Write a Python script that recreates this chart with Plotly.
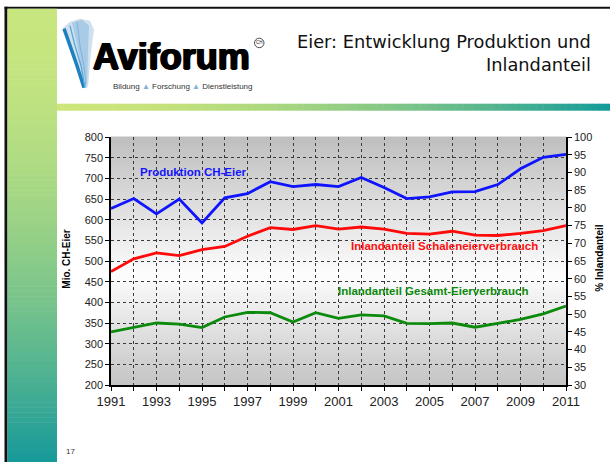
import plotly.graph_objects as go

# ---------------- data ----------------
years = list(range(1991, 2012))
produktion = [627, 651, 614, 650, 592, 653, 663, 692, 680, 685, 680, 702, 678, 651,
              655, 667, 668, 685, 723, 751, 758]
schaleneier = [62.0, 65.6, 67.3, 66.5, 68.2, 69.1, 72.0, 74.4, 73.9, 75.0, 74.0, 74.6,
               74.0, 72.8, 72.6, 73.4, 72.3, 72.2, 72.8, 73.6, 75.0]
gesamt = [45.0, 46.2, 47.5, 47.2, 46.2, 49.2, 50.5, 50.4, 47.8, 50.4, 48.8, 49.8,
          49.5, 47.4, 47.3, 47.5, 46.3, 47.4, 48.5, 50.1, 52.3]
x_ticklabels = [str(y) if (y - 1991) % 2 == 0 else "" for y in years]
left_ticks = list(range(200, 801, 50))
right_ticks = list(range(30, 101, 5))

# ---------------- geometry helpers ----------------
W, H = 610, 462
L, R, T, B = 111, 566, 137.3, 385.3


def px(x):
    return (x - L) / (R - L)


def py(y):
    return (B - y) / (B - T)


def lerp(c1, c2, f):
    return "rgb(%d,%d,%d)" % tuple(round(a + (b - a) * f) for a, b in zip(c1, c2))


shapes = []

# plot-area vertical gradient (grey - white - grey)
N = 70
top_c, mid_c, bot_c = (190, 190, 190), (253, 253, 253), (196, 196, 196)
t0 = 0.56
for i in range(N):
    t = (i + 0.5) / N
    if t < t0:
        col = lerp(top_c, mid_c, t / t0)
    else:
        col = lerp(mid_c, bot_c, (t - t0) / (1 - t0))
    shapes.append(dict(type="rect", xref="paper", yref="paper", x0=0, x1=1,
                       y0=1 - (i + 1) / N - 0.002, y1=1 - i / N + 0.002,
                       fillcolor=col, line_width=0, layer="below"))

# slide frame: black top and left lines
shapes.append(dict(type="rect", xref="paper", yref="paper", x0=px(4.5), x1=px(611),
                   y0=py(9), y1=py(7), fillcolor="#111", line_width=0, layer="below"))
shapes.append(dict(type="rect", xref="paper", yref="paper", x0=px(4.5), x1=px(7.5),
                   y0=py(463), y1=py(7), fillcolor="#111", line_width=0, layer="below"))

# green left bar (vertical gradient)
NB = 90
g_top, g_bot = (200, 230, 127), (21, 153, 154)
for i in range(NB):
    y0p = 9 + (463 - 9) * i / NB
    y1p = 9 + (463 - 9) * (i + 1) / NB
    f = ((i + 0.5) / NB) ** 1.8
    shapes.append(dict(type="rect", xref="paper", yref="paper", x0=px(7.5), x1=px(57),
                       y0=py(y1p + 0.5), y1=py(y0p), fillcolor=lerp(g_top, g_bot, f),
                       line_width=0, layer="below"))

# header gradient line (horizontal gradient)
NH = 90
h_l, h_r = (205, 229, 122), (17, 154, 153)
for i in range(NH):
    x0p = 57 + (611 - 57) * i / NH
    x1p = 57 + (611 - 57) * (i + 1) / NH
    f = ((i + 0.5) / NH) ** 1.8
    shapes.append(dict(type="rect", xref="paper", yref="paper", x0=px(x0p), x1=px(x1p + 0.5),
                       y0=py(111), y1=py(104), fillcolor=lerp(h_l, h_r, f),
                       line_width=0, layer="below"))


# logo feather graphic
def path(points, close=True):
    s = "M " + " L ".join("%f,%f" % (px(a), py(b)) for a, b in points)
    return s + (" Z" if close else "")


shapes.append(dict(type="path", xref="paper", yref="paper",
                   path=path([(63, 28), (70, 22), (80, 19), (90, 21), (94, 30), (91, 52),
                              (88, 88), (81, 76), (71, 50)]),
                   fillcolor="#cfe0ef", line_width=0, layer="below"))
shapes.append(dict(type="path", xref="paper", yref="paper",
                   path=path([(72, 23), (82, 20), (89, 26), (88, 52), (87, 86), (82, 70), (77, 45)]),
                   fillcolor="#a9cbe6", line_width=0, layer="below"))
for pts, col, w in [([(64, 29), (70, 46), (77, 66), (84, 88)], "#1f80c0", 3.5),
                    ([(70, 26), (75, 46), (81, 66), (85, 88)], "#5aa6d6", 1.3),
                    ([(77, 22), (80, 46), (84, 66), (86, 88)], "#78b5de", 1.0)]:
    shapes.append(dict(type="path", xref="paper", yref="paper", path=path(pts, close=False),
                       line=dict(color=col, width=w), layer="below"))

# registered mark circle
shapes.append(dict(type="circle", xref="paper", yref="paper", x0=px(254.5), x1=px(264),
                   y0=py(48), y1=py(38.5), line=dict(color="#222", width=0.8),
                   fillcolor="white", layer="above"))

# ---------------- traces ----------------
fig = go.Figure()
fig.add_trace(go.Scatter(x=years, y=produktion, mode="lines", yaxis="y",
                         line=dict(color="#0f14ff", width=2.8), name="Produktion CH-Eier"))
fig.add_trace(go.Scatter(x=years, y=schaleneier, mode="lines", yaxis="y2",
                         line=dict(color="#ff0a0a", width=2.8),
                         name="Inlandanteil Schaleneierverbrauch"))
fig.add_trace(go.Scatter(x=years, y=gesamt, mode="lines", yaxis="y2",
                         line=dict(color="#0b8a0b", width=2.8),
                         name="Inlandanteil Gesamt-Eierverbrauch"))

ann = []


def text(x, y, s, size, color="#000", bold=False, xanchor="center", family="Liberation Sans, Arial",
         angle=0, shadow=None):
    f = dict(size=size, color=color, family=family)
    if shadow is not None:
        f["shadow"] = shadow
    ann.append(dict(x=px(x), y=py(y), xref="paper", yref="paper", text=("<b>%s</b>" % s) if bold else s,
                    showarrow=False, xanchor=xanchor, yanchor="middle", textangle=angle,
                    font=f))


# header texts
text(593, 41.5, "Eier: Entwicklung Produktion und", 17.8, "#111", xanchor="right",
     family="DejaVu Sans")
text(593, 65, "Inlandanteil", 17.8, "#111", xanchor="right", family="DejaVu Sans")
text(171, 57, "Aviforum", 36, "#000", bold=True, family="Liberation Sans",
     shadow="1px 0px 0px #000, -1px 0px 0px #000, 0px 1px 0px #000")
text(259.3, 43.3, "CH", 4.5, "#222")
text(182.5, 87,
     'Bildung <span style="color:#7fb3d9">▲</span> Forschung '
     '<span style="color:#7fb3d9">▲</span> Dienstleistung', 8, "#333")

# chart labels
text(138, 172.5, "Produktion CH-Eier", 11.5, "#1414ff", bold=True, xanchor="left")
text(349, 246.5, "Inlandanteil Schaleneierverbrauch", 11.5, "#ff1010", bold=True, xanchor="left")
text(336, 291.5, "Inlandanteil Gesamt-Eierverbrauch", 11.5, "#0b8a0b", bold=True, xanchor="left")
text(67, 259, "Mio. CH-Eier", 10, "#000", bold=True, angle=-90)
text(600, 259, "% Inlandanteil", 10, "#000", bold=True, angle=-90)
text(70, 452, "17", 8, "#333")

axis_font = dict(family="Liberation Sans, Arial", size=11, color="#222")

fig.update_layout(
    width=W, height=H,
    margin=dict(l=L, r=W - R, t=T, b=H - B, pad=0),
    paper_bgcolor="white",
    plot_bgcolor="rgba(0,0,0,0)",
    showlegend=False,
    shapes=shapes,
    annotations=ann,
    xaxis=dict(range=[1991, 2011], tickmode="array", tickvals=years, ticktext=x_ticklabels,
               showgrid=True, gridcolor="#3a3a3a", griddash="dot", gridwidth=1,
               showline=True, linecolor="black", linewidth=1.5,
               ticks="outside", ticklen=4, tickcolor="black", tickwidth=1,
               tickfont=dict(family="Liberation Sans, Arial", size=13, color="#222"),
               zeroline=False, fixedrange=True),
    yaxis=dict(range=[200, 800], tickmode="array", tickvals=left_ticks,
               showgrid=True, gridcolor="#3a3a3a", griddash="dot", gridwidth=1,
               showline=True, linecolor="black", linewidth=1.5,
               ticks="outside", ticklen=4, tickcolor="black", tickwidth=1,
               tickfont=axis_font, zeroline=False, fixedrange=True),
    yaxis2=dict(range=[30, 100], tickmode="array", tickvals=right_ticks, overlaying="y",
                side="right", showgrid=False,
                showline=True, linecolor="black", linewidth=1.5,
                ticks="outside", ticklen=4, tickcolor="black", tickwidth=1,
                tickfont=axis_font, zeroline=False, fixedrange=True),
)

fig.write_html("out.html", config={"displayModeBar": False},
               post_script="document.body.style.margin='0';")
